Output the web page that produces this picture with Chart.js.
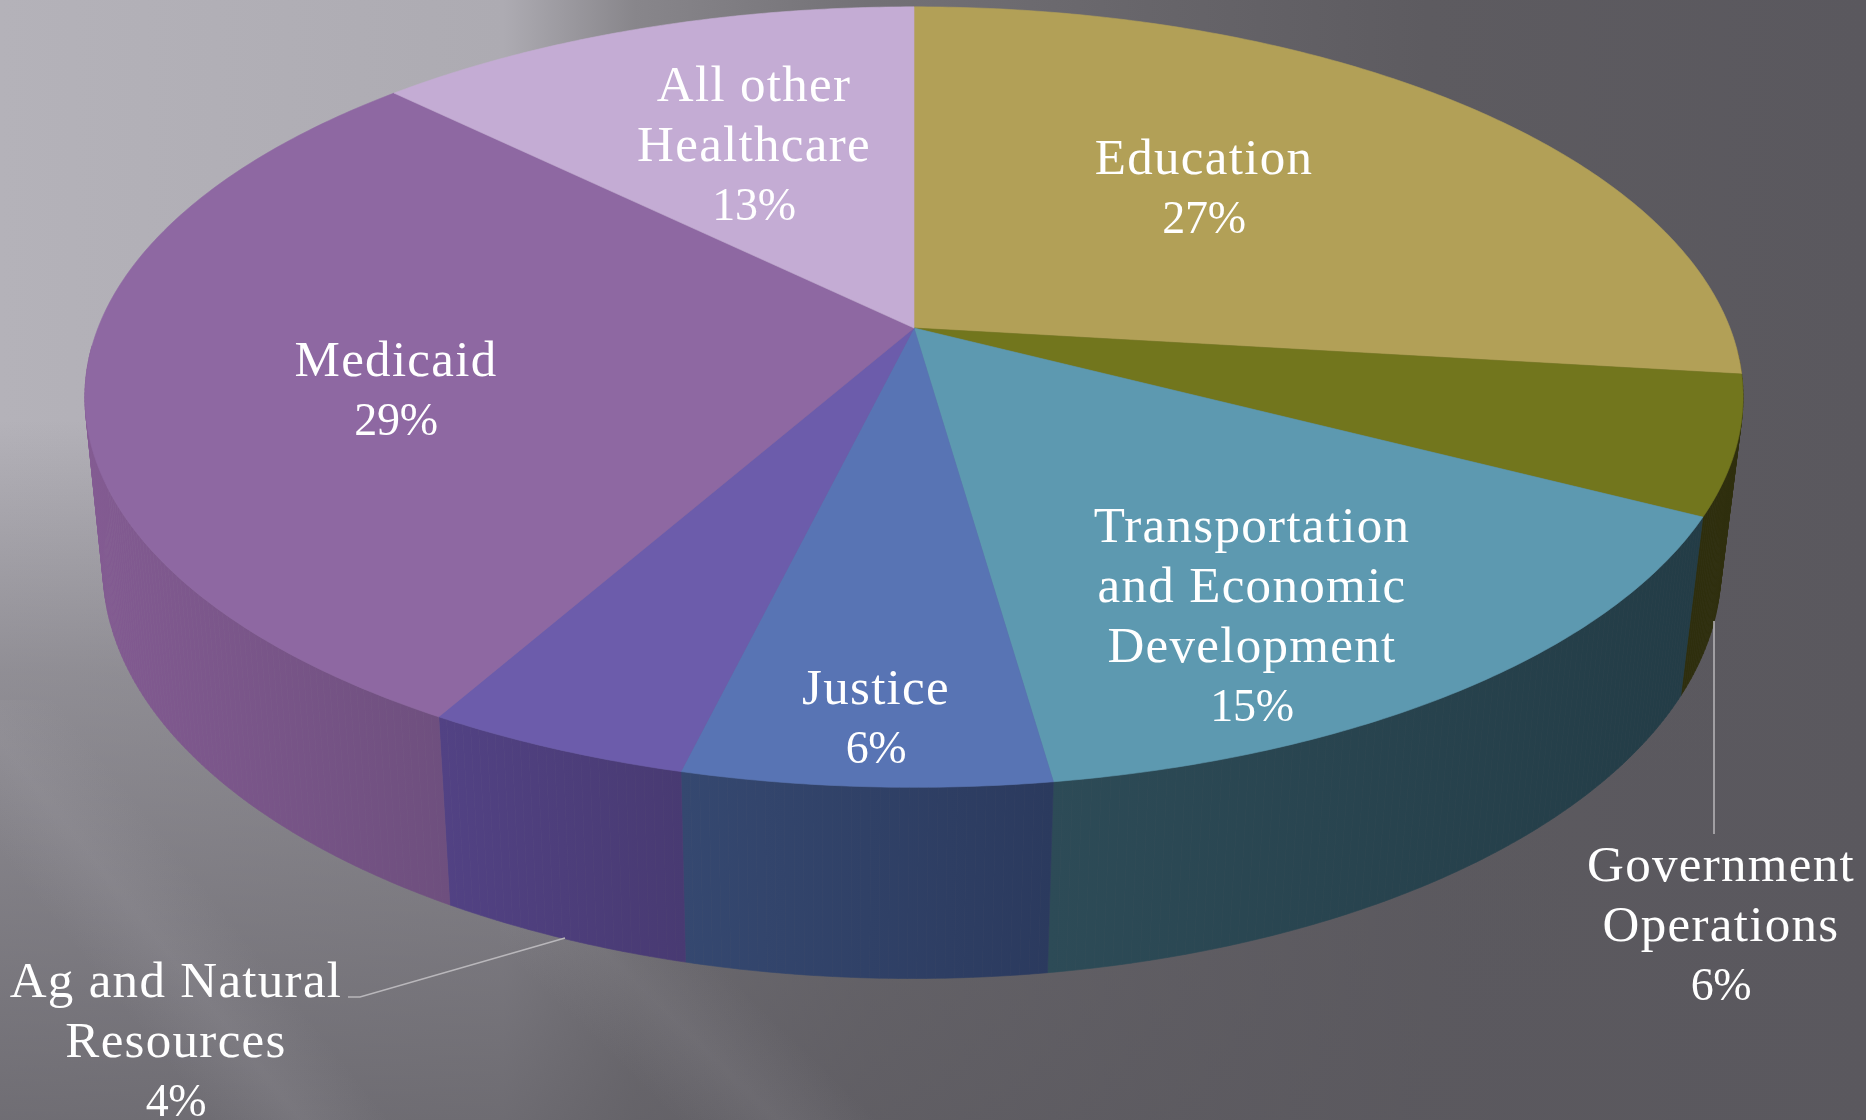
<!DOCTYPE html>
<html>
<head>
<meta charset="utf-8">
<title>Budget pie</title>
<style>
  html, body { margin: 0; padding: 0; background: #5a585e; }
  canvas { display: block; }
</style>
<script src="https://cdn.jsdelivr.net/npm/chart.js@4"></script>
</head>
<body>
<canvas id="pie" width="1866" height="1120"></canvas>
<script>
const categories = ['Education', 'Government Operations', 'Transportation and Economic Development', 'Justice', 'Ag and Natural Resources', 'Medicaid', 'All other Healthcare'];
const shares = [26.9, 5.7, 15.15, 6.05, 4.4, 29.1, 12.7];
const topColors = ['#b2a057', '#72761d', '#5d99b0', '#5874b4', '#6c5cab', '#8e68a2', '#c4acd4'];
const wallLeft = ['#4a4220', '#2e2e0d', '#2d4b57', '#354870', '#524284', '#835b92', '#50405a'];
const wallRight = ['#4a4220', '#2e2e0d', '#233c46', '#2b3a5e', '#483a72', '#6e4f7e', '#50405a'];

// label layout: centre x, y of first line, and how the name is wrapped
const labelLines = [
  ['Education'],
  ['Government', 'Operations'],
  ['Transportation', 'and Economic', 'Development'],
  ['Justice'],
  ['Ag and Natural', 'Resources'],
  ['Medicaid'],
  ['All other', 'Healthcare']
];
const labelSpots = [[1204, 161], [1721, 868], [1252, 529], [876, 691], [176, 984], [396, 363], [754, 88]];

// perspective of the tilted disc, fitted by eye to the picture
const view = { x: 914, y: 328, a: 816, b: 378, k: 0.177, depth: 173, shrink: 0.024, lowerX: -2 };

function project(t, lower) {
  const u = Math.cos(t), v = Math.sin(t);
  const w = 1 - view.k * v + (lower ? view.shrink : 0);
  return [view.x + (lower ? view.lowerX : 0) + view.a * u / w, view.y + (view.b * v + (lower ? view.depth : 0)) / w];
}

function arcAngles(start, end) {
  const angles = [];
  const steps = Math.max(2, Math.ceil((end - start) / 0.01));
  for (let i = 0; i <= steps; i++) {
    angles.push(start + (end - start) * i / steps);
  }
  return angles;
}

function tracePath(ctx, pts) {
  ctx.beginPath();
  pts.forEach((p, i) => i ? ctx.lineTo(p[0], p[1]) : ctx.moveTo(p[0], p[1]));
  ctx.closePath();
}

function softBand(ctx, x, y, nx, ny, reach, strength) {
  const band = ctx.createLinearGradient(x - nx * reach, y - ny * reach, x + nx * reach, y + ny * reach);
  band.addColorStop(0, 'rgba(175,173,180,0)');
  band.addColorStop(0.5, 'rgba(175,173,180,' + strength + ')');
  band.addColorStop(1, 'rgba(175,173,180,0)');
  return band;
}

function drawBackdrop(ctx, w, h) {
  const across = ctx.createLinearGradient(0, 0, w, 0);
  across.addColorStop(0, '#b4b2b9');
  across.addColorStop(0.27, '#adabb2');
  across.addColorStop(0.34, '#88868b');
  across.addColorStop(0.465, '#737176');
  across.addColorStop(0.615, '#67656a');
  across.addColorStop(0.765, '#5d5b60');
  across.addColorStop(1, '#5a585e');
  ctx.fillStyle = across;
  ctx.fillRect(0, 0, w, h);

  const down = ctx.createLinearGradient(0, 420, 0, h);
  down.addColorStop(0, 'rgba(90,88,94,0)');
  down.addColorStop(0.36, 'rgba(90,88,94,0.4)');
  down.addColorStop(0.83, 'rgba(90,88,94,0.67)');
  down.addColorStop(1, 'rgba(90,88,94,0.76)');
  ctx.fillStyle = down;
  ctx.fillRect(0, 420, w, h - 420);

  // pale streaks running down to the right in the lower left corner
  ctx.fillStyle = softBand(ctx, 150, 930, -0.78, 0.62, 70, 0.15);
  ctx.fillRect(0, 700, 500, 420);
  ctx.fillStyle = softBand(ctx, 690, 1035, -0.7, 0.72, 70, 0.12);
  ctx.fillRect(500, 900, 500, 220);
}

const backdropPlugin = {
  id: 'backdrop',
  beforeDraw(chart) {
    drawBackdrop(chart.ctx, chart.width, chart.height);
  }
};

const disc3dPlugin = {
  id: 'disc3d',
  // the flat arcs are replaced by the tilted ones below
  beforeDatasetDraw() {
    return false;
  },
  afterDatasetsDraw(chart) {
    const ctx = chart.ctx;
    const arcs = chart.getDatasetMeta(0).data;
    ctx.save();

    arcs.forEach((arc, i) => {
      const angles = arcAngles(arc.startAngle, arc.endAngle);
      const top = angles.map(t => project(t, false));
      const bottom = angles.map(t => project(t, true));
      const xs = top.concat(bottom).map(p => p[0]);
      const shade = ctx.createLinearGradient(Math.min(...xs), 0, Math.max(...xs), 0);
      shade.addColorStop(0, wallLeft[i]);
      shade.addColorStop(1, wallRight[i]);
      ctx.fillStyle = shade;
      ctx.strokeStyle = shade;
      ctx.lineWidth = 0.6;
      // one quad at a time, the strip folds over itself at the sides
      for (let n = 0; n < top.length - 1; n++) {
        if (Math.sin(angles[n]) < 0.05) continue; // back of the disc, hidden by the top face
        tracePath(ctx, [top[n], top[n + 1], bottom[n + 1], bottom[n]]);
        ctx.fill();
        ctx.stroke();
      }
    });

    arcs.forEach(arc => {
      const rim = arcAngles(arc.startAngle, arc.endAngle).map(t => project(t, false));
      tracePath(ctx, [[view.x, view.y]].concat(rim));
      ctx.fillStyle = arc.options.backgroundColor;
      ctx.strokeStyle = arc.options.backgroundColor;
      ctx.lineWidth = 0.6;
      ctx.fill();
      ctx.stroke();
    });

    // leader lines for the two outside labels
    ctx.strokeStyle = '#b9b7bb';
    ctx.lineWidth = 1.5;
    ctx.beginPath();
    ctx.moveTo(1714, 621);
    ctx.lineTo(1714, 834);
    ctx.moveTo(348, 997);
    ctx.lineTo(360, 997);
    ctx.lineTo(565, 938);
    ctx.stroke();

    ctx.fillStyle = '#ffffff';
    ctx.textAlign = 'center';
    ctx.textBaseline = 'middle';
    categories.forEach((name, i) => {
      labelLines[i].forEach((line, n) => {
        ctx.font = '51px "Liberation Serif"';
        ctx.letterSpacing = '1.3px';
        ctx.fillText(line, labelSpots[i][0], labelSpots[i][1] + n * 60);
      });
      ctx.font = '46px "Liberation Serif"';
      ctx.letterSpacing = '-0.3px';
      ctx.fillText(Math.round(chart.data.datasets[0].data[i]) + '%', labelSpots[i][0], labelSpots[i][1] + labelLines[i].length * 60);
    });
    ctx.restore();
  }
};

new Chart(document.getElementById('pie').getContext('2d'), {
  type: 'pie',
  data: {
    labels: categories,
    datasets: [{
      data: shares,
      backgroundColor: topColors,
      borderWidth: 0
    }]
  },
  options: {
    responsive: false,
    animation: false,
    plugins: {
      legend: { display: false },
      tooltip: { enabled: false }
    }
  },
  plugins: [backdropPlugin, disc3dPlugin]
});
</script>
</body>
</html>
